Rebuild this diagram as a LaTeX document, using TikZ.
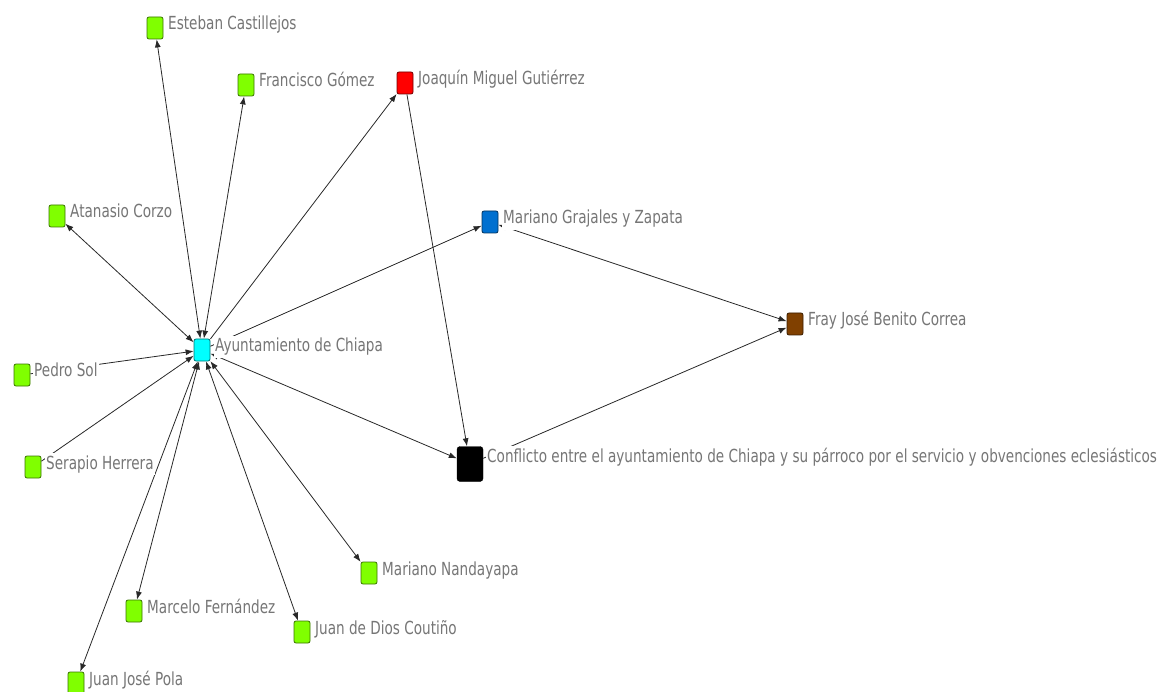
\documentclass[tikz,border=0pt]{standalone}
\usepackage{fontspec}
\setmainfont{DejaVu Sans}[FakeStretch=0.755]
\usetikzlibrary{arrows.meta}
\definecolor{lime}{RGB}{128,255,0}
\definecolor{cyanN}{RGB}{0,255,255}
\definecolor{redN}{RGB}{255,0,0}
\definecolor{blueN}{RGB}{0,112,208}
\definecolor{brownN}{RGB}{128,64,0}
\definecolor{labelgray}{RGB}{118,118,118}
\definecolor{edgegray}{RGB}{40,40,40}
\begin{document}
\begin{tikzpicture}[x=1pt,y=-1pt,
  actor/.style={rectangle, rounded corners=2pt, minimum width=16pt, minimum height=22pt, inner sep=0pt, line width=0.8pt, fill=#1, draw=#1!45!black},
  lbl/.style={anchor=base west, fill=white, inner xsep=1pt, inner ysep=2pt, text=labelgray, font=\fontsize{18}{18}\selectfont},
  edge/.style={draw=edgegray, line width=0.8pt},
  one/.style={edge, -{Latex[length=8pt,width=6pt]}},
  two/.style={edge, {Latex[length=8pt,width=6pt]}-{Latex[length=8pt,width=6pt]}}
]
\useasboundingbox (0,0) rectangle (1164,692);
% nodes
\node[actor=lime] (est) at (155,28) {};
\node[actor=lime] (fra) at (246,85) {};
\node[actor=redN] (joa) at (405,83) {};
\node[actor=lime] (ata) at (57,216) {};
\node[actor=blueN] (mgz) at (490,222) {};
\node[actor=brownN] (fry) at (795,324) {};
\node[actor=cyanN] (ayu) at (202,350) {};
\node[actor=lime] (ped) at (22,375) {};
\node[actor=lime] (ser) at (33,467) {};
\node[rectangle, rounded corners=3pt, minimum width=26pt, minimum height=35pt, inner sep=0pt, fill=black, draw=black] (con) at (470,464) {};
\node[actor=lime] (man) at (369,573) {};
\node[actor=lime] (mar) at (134,611) {};
\node[actor=lime] (jdd) at (302,632) {};
\node[actor=lime] (jjp) at (76,683) {};
% edges
\draw[two] (ayu) -- (est);
\draw[two] (ayu) -- (fra);
\draw[one] (ayu) -- (joa);
\draw[two] (ayu) -- (ata);
\draw[one] (ped) -- (ayu);
\draw[one] (ser) -- (ayu);
\draw[two] (ayu) -- (jjp);
\draw[two] (ayu) -- (mar);
\draw[two] (ayu) -- (jdd);
\draw[two] (ayu) -- (man);
\draw[two] (ayu) -- (con);
\draw[one] (ayu) -- (mgz);
\draw[one] (joa) -- (con);
\draw[two] (mgz) -- (fry);
\draw[one] (con) -- (fry);
% labels
\node[lbl] (lest) at (167,30) {Esteban Castillejos};
\node[lbl] (lfra) at (258,87) {Francisco Gómez};
\node[lbl] (ljoa) at (417,85) {Joaquín Miguel Gutiérrez};
\node[lbl] (lata) at (69,218) {Atanasio Corzo};
\node[lbl] (lmgz) at (502,224) {Mariano Grajales y Zapata};
\node[lbl] (lfry) at (807,326) {Fray José Benito Correa};
\node[lbl] (layu) at (214,352) {Ayuntamiento de Chiapa};
\node[lbl] (lped) at (33,377) {Pedro Sol};
\node[lbl] (lser) at (45,469) {Serapio Herrera};
\node[lbl] (lcon) at (486,462) {Conflicto entre el ayuntamiento de Chiapa y su párroco por el servicio y obvenciones eclesiásticos};
\node[lbl] (lman) at (381,575) {Mariano Nandayapa};
\node[lbl] (lmar) at (146,613) {Marcelo Fernández};
\node[lbl] (ljdd) at (314,634) {Juan de Dios Coutiño};
\node[lbl] (ljjp) at (88,685) {Juan José Pola};
\end{tikzpicture}
\end{document}
